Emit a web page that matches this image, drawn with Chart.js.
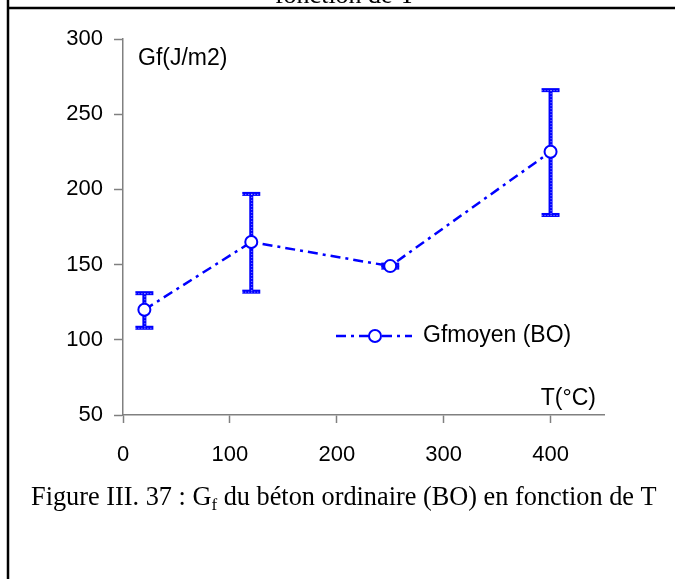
<!DOCTYPE html>
<html lang="fr">
<head>
    <meta charset="UTF-8">
    <title>Gf du béton ordinaire</title>
    <script src="https://cdn.jsdelivr.net/npm/chart.js"></script>
    <style>
        body { margin: 0; background: white; }
        #chart-container { width: 675px; height: 579px; position: relative; }
    </style>
</head>
<body>
    <div id="chart-container">
        <canvas id="gfChart"></canvas>
    </div>

    <script>
        // Gf moyen (J/m2) du béton ordinaire selon la température
        const temperatures = [20, 120, 250, 400];
        const gfMoyen = [120, 165, 149, 225];
        const gfMax = [131, 197, 150, 266];
        const gfMin = [108, 132, 148, 183];

        const xTicks = [0, 100, 200, 300, 400];
        const yTicks = [50, 100, 150, 200, 250, 300];

        const BLUE = '#0000ff';
        const AXIS = '#808080';
        const SANS = "'Liberation Sans', Arial, sans-serif";
        const SERIF = "'Liberation Serif', 'Times New Roman', serif";

        const points = temperatures.map((t, i) => ({ x: t, y: gfMoyen[i] }));

        // barre d'erreur bleue texturée (style Excel)
        function drawErrorBar(ctx, x, yTop, yBot) {
            ctx.save();
            ctx.fillStyle = BLUE;
            ctx.fillRect(x - 2, yTop, 4, yBot - yTop);
            ctx.fillRect(x - 9, yTop - 2, 18, 4);
            ctx.fillRect(x - 9, yBot - 2, 18, 4);
            ctx.strokeStyle = 'rgba(255,255,255,0.65)';
            ctx.lineWidth = 1;
            ctx.setLineDash([1, 2]);
            ctx.beginPath();
            ctx.moveTo(x + 0.5, yTop);
            ctx.lineTo(x + 0.5, yBot);
            ctx.moveTo(x - 9, yTop + 0.5);
            ctx.lineTo(x + 9, yTop + 0.5);
            ctx.moveTo(x - 9, yBot + 0.5);
            ctx.lineTo(x + 9, yBot + 0.5);
            ctx.stroke();
            ctx.restore();
        }

        const errorBars = {
            id: 'errorBars',
            beforeDatasetsDraw(chart) {
                const { ctx, scales: { x, y } } = chart;
                temperatures.forEach((t, i) => {
                    drawErrorBar(ctx, x.getPixelForValue(t),
                        y.getPixelForValue(gfMax[i]), y.getPixelForValue(gfMin[i]));
                });
            }
        };

        const decorations = {
            id: 'decorations',
            afterDraw(chart) {
                const { ctx, chartArea } = chart;
                ctx.save();

                // cadre
                ctx.strokeStyle = '#000';
                ctx.lineWidth = 2.5;
                ctx.beginPath();
                ctx.moveTo(8, 0);
                ctx.lineTo(8, 579);
                ctx.moveTo(8, 8);
                ctx.lineTo(675, 8);
                ctx.stroke();

                // fin de la légende précédente, coupée en haut
                ctx.fillStyle = '#000';
                ctx.font = '26px ' + SERIF;
                ctx.textAlign = 'center';
                ctx.textBaseline = 'alphabetic';
                ctx.fillText('fonction de T', 345, 3);

                // titres des axes
                ctx.font = '23px ' + SANS;
                ctx.textBaseline = 'middle';
                ctx.textAlign = 'left';
                ctx.fillText('Gf(J/m2)', chartArea.left + 15, 59);
                ctx.textAlign = 'right';
                ctx.fillText('T(°C)', 596, 399);

                // légende
                const ly = 336;
                ctx.strokeStyle = BLUE;
                ctx.lineWidth = 2.5;
                ctx.setLineDash([10, 5, 3, 5]);
                ctx.beginPath();
                ctx.moveTo(336, ly);
                ctx.lineTo(412, ly);
                ctx.stroke();
                ctx.setLineDash([]);
                ctx.fillStyle = '#fff';
                ctx.lineWidth = 2;
                ctx.beginPath();
                ctx.arc(375, ly, 6, 0, Math.PI * 2);
                ctx.fill();
                ctx.stroke();
                ctx.fillStyle = '#000';
                ctx.textAlign = 'left';
                ctx.fillText('Gfmoyen (BO)', 423, ly);

                // légende de la figure
                ctx.font = '26.3px ' + SERIF;
                ctx.textBaseline = 'alphabetic';
                const base = 505;
                let cx = 31;
                const part1 = 'Figure III. 37 : G';
                ctx.fillText(part1, cx, base);
                cx += ctx.measureText(part1).width;
                ctx.font = '17px ' + SERIF;
                ctx.fillText('f', cx, base + 5);
                cx += ctx.measureText('f').width;
                ctx.font = '26.3px ' + SERIF;
                ctx.fillText(' du béton ordinaire (BO) en fonction de T', cx, base);

                ctx.restore();
            }
        };

        new Chart(document.getElementById('gfChart'), {
            type: 'scatter',
            data: {
                datasets: [{
                    label: 'Gfmoyen (BO)',
                    data: points,
                    showLine: true,
                    borderColor: BLUE,
                    borderWidth: 2.5,
                    borderDash: [10, 5, 3, 5],
                    pointRadius: 6,
                    pointBorderWidth: 2,
                    pointBackgroundColor: '#fff',
                    pointBorderColor: BLUE
                }]
            },
            options: {
                responsive: true,
                maintainAspectRatio: false,
                animation: false,
                layout: { padding: { left: 0, top: 39, right: 71, bottom: 104 } },
                plugins: {
                    legend: { display: false },
                    tooltip: { enabled: false }
                },
                scales: {
                    x: {
                        type: 'linear',
                        min: 0,
                        max: 450,
                        afterBuildTicks: (s) => { s.ticks = xTicks.map(v => ({ value: v })); },
                        afterFit: (s) => { s.height = 60; },
                        border: { color: AXIS, width: 1.5 },
                        grid: { drawOnChartArea: false, tickLength: 8, tickColor: AXIS, tickWidth: 1.5 },
                        ticks: { color: '#000', font: { family: SANS, size: 22 }, padding: 19, maxRotation: 0, autoSkip: false }
                    },
                    y: {
                        min: 50,
                        max: 300,
                        afterBuildTicks: (s) => { s.ticks = yTicks.map(v => ({ value: v })); },
                        afterFit: (s) => { s.width = 123; },
                        border: { color: AXIS, width: 1.5 },
                        grid: { drawOnChartArea: false, tickLength: 9, tickColor: AXIS, tickWidth: 1.5 },
                        ticks: { color: '#000', font: { family: SANS, size: 22 }, padding: 11, autoSkip: false }
                    }
                }
            },
            plugins: [errorBars, decorations]
        });
    </script>
</body>
</html>
